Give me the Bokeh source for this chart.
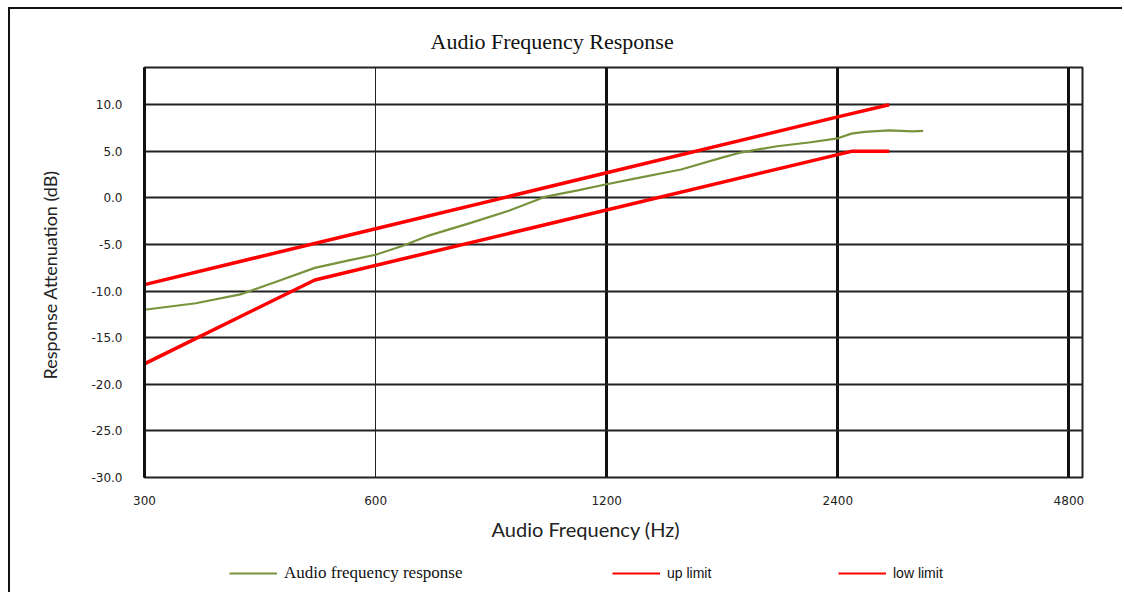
from bokeh.plotting import figure
from bokeh.models import (Range1d, FixedTicker, Grid, Title, Legend, LegendItem,
                          PrintfTickFormatter)
from bokeh.layouts import column
from bokeh.embed import file_html
from bokeh.resources import INLINE

# ---- data ----
resp_freq = [300, 350, 400, 450, 500, 550, 600, 650, 700, 800, 900, 1000, 1100,
             1200, 1300, 1500, 1700, 1800, 2000, 2200, 2400, 2500, 2600, 2800, 3000, 3100]
resp_db = [-12.0, -11.3, -10.35, -8.85, -7.5, -6.75, -6.1, -5.15, -4.1, -2.65, -1.3, 0.15, 0.82,
           1.47, 2.05, 3.05, 4.35, 4.9, 5.55, 5.95, 6.4, 6.9, 7.1, 7.25, 7.15, 7.2]
up_freq = [300, 600, 1200, 2400, 2800]
up_db = [-9.3, -3.3, 2.7, 8.7, 10.0]
low_freq = [300, 500, 2500, 2800]
low_db = [-17.8, -8.8, 5.0, 5.0]

x_ticks = [300, 600, 1200, 2400, 4800]
x_tick_labels = ["300", "600", "1200", "2400", "4800"]
y_ticks = [-30, -25, -20, -15, -10, -5, 0, 5, 10]

series_names = ["Audio frequency response", "up limit", "low limit"]
series_colors = ["#77933C", "#FF0000", "#FF0000"]

W = 1112
p = figure(width=W, height=543, x_axis_type="log",
           x_range=Range1d(300, 5000), y_range=Range1d(-30, 14),
           output_backend="svg", toolbar_location=None,
           min_border_left=134, min_border_top=58, min_border_right=W - 134 - 938,
           min_border_bottom=75)

p.outline_line_color = "#222"
p.outline_line_width = 2
p.background_fill_color = "white"
p.border_fill_color = "white"

# title
p.title.text = "Audio Frequency Response"
p.title.align = "left"
p.title.offset = 286
p.title.text_font = "Liberation Serif"
p.title.text_font_size = "22px"
p.title.text_font_style = "normal"
p.title.text_color = "#111"
p.title.standoff = 27

# axes
p.xaxis.ticker = FixedTicker(ticks=x_ticks)
p.xaxis.major_label_overrides = {t: s for t, s in zip(x_ticks, x_tick_labels)}
p.yaxis.ticker = FixedTicker(ticks=y_ticks)
p.yaxis.formatter = PrintfTickFormatter(format="%.1f")
for ax in (p.xaxis[0], p.yaxis[0]):
    ax.major_tick_line_color = None
    ax.minor_tick_line_color = None
    ax.major_tick_out = 0
    ax.major_tick_in = 0
    ax.minor_tick_out = 0
    ax.major_label_text_font = "DejaVu Sans"
    ax.major_label_text_font_size = "12px"
    ax.major_label_text_color = "#222"
p.xaxis.axis_line_color = None
p.xaxis.major_label_standoff = 18
p.yaxis.axis_line_color = "#111"
p.yaxis.axis_line_width = 3
p.yaxis.major_label_standoff = 22
p.yaxis.axis_label = "Response  Attenuation (dB)"
p.yaxis.axis_label_text_font = "Lato"
p.yaxis.axis_label_text_font_size = "18px"
p.yaxis.axis_label_text_font_style = "normal"
p.yaxis.axis_label_text_color = "#222"
p.yaxis.axis_label_standoff = 27

xlabel = Title(text="Audio Frequency (Hz)", align="left", offset=347,
               text_font="Lato", text_font_size="20px", text_font_style="normal",
               text_color="#222", standoff=14)
p.add_layout(xlabel, "below")

# grids
p.ygrid.ticker = FixedTicker(ticks=y_ticks)
p.ygrid.grid_line_color = "#222"
p.ygrid.grid_line_width = 2
p.xgrid.ticker = FixedTicker(ticks=[1200, 2400, 4800])
p.xgrid.grid_line_color = "#111"
p.xgrid.grid_line_width = 3
thin = Grid(dimension=0, ticker=FixedTicker(ticks=[600]), grid_line_color="#222",
            grid_line_width=1)
p.add_layout(thin)

# lines
p.line(resp_freq, resp_db, line_color=series_colors[0], line_width=2.2)
p.line(up_freq, up_db, line_color=series_colors[1], line_width=3.5)
p.line(low_freq, low_db, line_color=series_colors[2], line_width=3.5)

# legend strip (its frame is aligned with the main frame by the column layout)
leg = figure(width=W, height=40, x_range=Range1d(0, 1), y_range=Range1d(0, 1),
             output_backend="svg", toolbar_location=None,
             x_axis_location=None, y_axis_location=None, min_border=0)
leg.outline_line_color = None
leg.xgrid.visible = False
leg.ygrid.visible = False
leg.border_fill_color = "white"
leg.background_fill_color = "white"

leg_x = [85, 468, 694]
leg_fonts = [("Liberation Serif", "17px"), ("Liberation Sans", "14px"),
             ("Liberation Sans", "14px")]
for name, color, x, (font, size) in zip(series_names, series_colors, leg_x, leg_fonts):
    # proxy renderer kept outside the visible range; only its legend swatch shows
    r = leg.line(x=[5, 6], y=[5, 6], line_color=color, line_width=2)
    lg = Legend(items=[LegendItem(label=name, renderers=[r])], location=(x, 9),
                orientation="horizontal", padding=0, margin=0, spacing=0,
                glyph_width=48, glyph_height=20, label_standoff=7,
                border_line_color=None, background_fill_alpha=0,
                label_text_font=font, label_text_font_size=size,
                label_text_color="#111", label_height=20)
    leg.add_layout(lg)

layout = column(p, leg, spacing=0,
                styles={"border-top": "2px solid #111", "border-left": "2px solid #111",
                        "margin-top": "7px", "margin-left": "8px"})

open("out.html", "w").write(file_html(layout, INLINE))
